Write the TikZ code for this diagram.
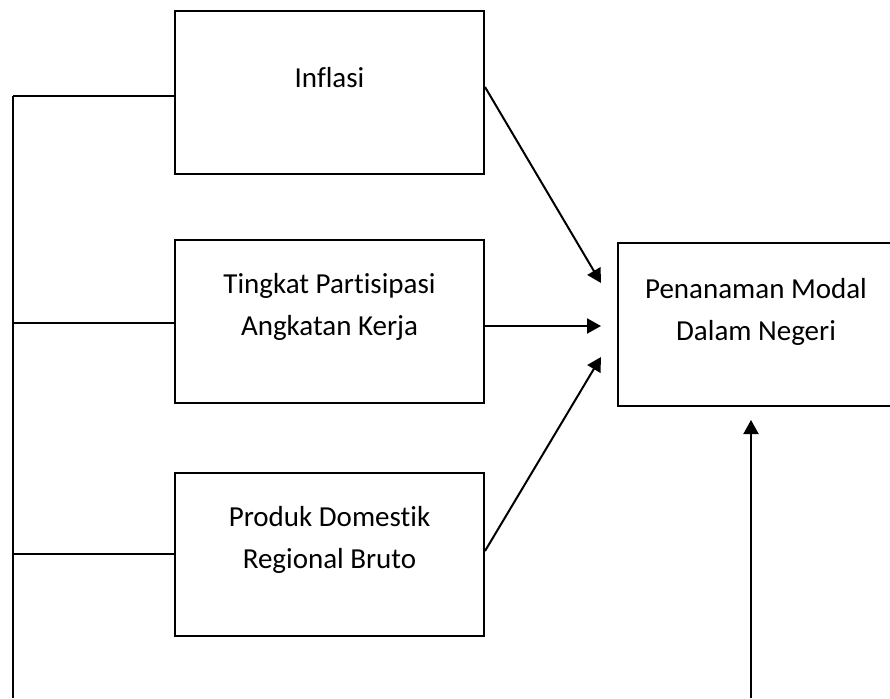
\documentclass[tikz,border=0pt]{standalone}
\usepackage{fontspec}
\setmainfont{Carlito}[Ligatures=NoCommon]
\usetikzlibrary{arrows.meta}

\begin{document}
\begin{tikzpicture}[x=1pt,y=-1pt,line width=2pt,
	kotak/.style={draw,rectangle,minimum width=309pt,minimum height=163pt,inner sep=0pt},
	teks/.style={align=center,anchor=base,inner sep=0pt,font=\fontsize{29}{42}\selectfont},
	panah/.style={-{Triangle[length=14pt,width=15pt]}}]
\useasboundingbox (0,0) rectangle (890,698);
\clip (0,0) rectangle (890,698);
\node[kotak] (inflasi) at (329.5,92.5) {};
\node[kotak] (tpak) at (329.5,321) {};
\node[kotak] (pdrb) at (329.5,554.5) {};
\node[kotak,minimum width=330pt] (pmdn) at (783,324.5) {};
\node[teks] (tInflasi) at (329.5,88) {Inflasi};
\node[teks] (tTpak) at (329.5,335) {Tingkat Partisipasi\\Angkatan Kerja};
\node[teks] (tPdrb) at (329.5,568) {Produk Domestik\\Regional Bruto};
\node[teks] (tPmdn) at (756,340) {Penanaman Modal\\Dalam Negeri};
\coordinate (kiri) at (13,96);
\coordinate (kiribawah) at (13,698);
\coordinate (kananbawah) at (751,698);
\draw (kiri) -- (kiribawah);
\draw (kiri) -- (kiri -| inflasi.west);
\foreach \kotak/\y in {tpak/323,pdrb/554}
{
	\draw (13,\y) -- (\kotak.west |- 0,\y);
}
\draw[panah] ([yshift=5.5pt]inflasi.east) -- ([xshift=-16pt,yshift=41.5pt]pmdn.west);
\draw[panah] ([yshift=-5pt]tpak.east) -- ([xshift=-16pt,yshift=-1.5pt]pmdn.west);
\draw[panah] ([yshift=3.5pt]pdrb.east) -- ([xshift=-16pt,yshift=-32.5pt]pmdn.west);
\draw[panah] (kananbawah) -- (kananbawah |- 0,420);
\end{tikzpicture}
\end{document}
